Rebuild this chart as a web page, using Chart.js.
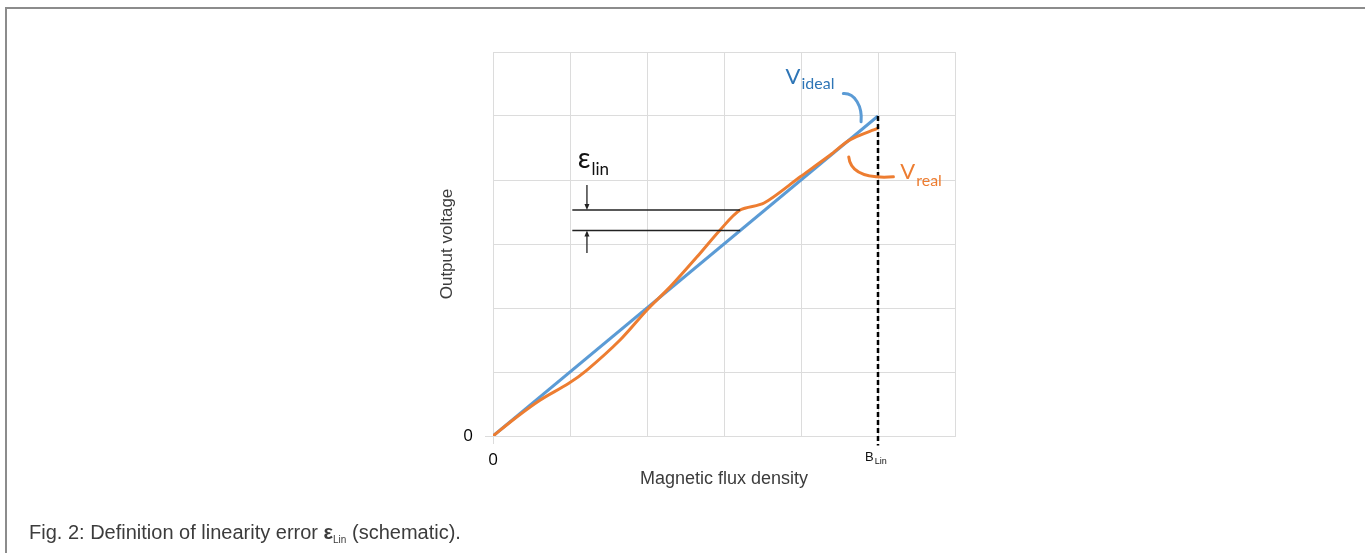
<!DOCTYPE html>
<html>
<head>
<meta charset="utf-8">
<script src="https://cdn.jsdelivr.net/npm/chart.js@4.4.1/dist/chart.umd.min.js"></script>
<style>
  html, body { margin: 0; padding: 0; background: #fff; }
  #wrap { position: relative; width: 1365px; height: 553px; overflow: hidden; }
  #frame { position: absolute; left: 5px; top: 7px; width: 1370px; height: 560px;
           border-top: 2px solid #8c8c8c; border-left: 2px solid #8c8c8c; }
  #chart { position: absolute; left: 0; top: 0; }
  #caption { position: absolute; left: 29px; top: 521px; line-height: 20px;
             font: 20px "Liberation Sans", Arial, sans-serif; color: #3c3c3c; white-space: nowrap; }
  #caption sub { font-size: 10px; vertical-align: -4px; line-height: 0; }
</style>
</head>
<body>
<div id="wrap">
  <div id="frame"></div>
  <canvas id="chart" width="1365" height="553"></canvas>
  <div id="caption">Fig. 2: Definition of linearity error <b>ε</b><sub>Lin</sub> (schematic).</div>
</div>
<script>
// data (schematic units)
const idealX = [0, 5];
const idealY = [0, 5];
const realX = [0, 0.30, 0.61, 0.98, 1.22, 1.65, 2.00, 2.30, 2.65, 2.95, 3.21, 3.52, 3.99, 4.38, 4.64, 5.00];
const realY = [0, 0.29, 0.56, 0.82, 1.03, 1.50, 1.97, 2.33, 2.80, 3.22, 3.53, 3.64, 4.05, 4.39, 4.63, 4.81];
const bLinX = [5, 5];
const bLinY = [5, -0.15];
const epsX = [1.03, 3.21];
const epsUpper = 3.53;
const epsLower = 3.21;
const arrowX = 1.22;
const arrowFrom = [3.92, 2.86];
const xTickLabels = { 0: "0" };
const yTickLabels = { 0: "0" };

const blue = "#5b9bd5";
const orange = "#ed7d31";
const gridColor = "#dcdcdc";

const toPoints = (xs, ys) => xs.map((v, i) => ({ x: v, y: ys[i] }));

// subscripted text helper
function subText(ctx, main, sub, x, y, mainFont, subFont, color, dy) {
    ctx.fillStyle = color;
    ctx.textBaseline = "alphabetic";
    ctx.textAlign = "left";
    ctx.font = mainFont;
    ctx.fillText(main, x, y);
    const w = ctx.measureText(main).width;
    ctx.font = subFont;
    ctx.fillText(sub, x + w + 1, y + dy);
}

const annotate = {
    id: "annotate",
    afterDatasetsDraw(chart) {
        const { ctx, scales: { x, y }, chartArea } = chart;
        const px = v => x.getPixelForValue(v);
        const py = v => y.getPixelForValue(v);
        ctx.save();

        // error arrows
        ctx.strokeStyle = "#222";
        ctx.fillStyle = "#222";
        ctx.lineWidth = 1.3;
        [[arrowFrom[0], epsUpper], [arrowFrom[1], epsLower]].forEach(([a, b]) => {
            const xa = px(arrowX), y0 = py(a), y1 = py(b);
            const dir = y1 > y0 ? 1 : -1;
            ctx.beginPath();
            ctx.moveTo(xa, y0);
            ctx.lineTo(xa, y1 - dir * 4);
            ctx.stroke();
            ctx.beginPath();
            ctx.moveTo(xa, y1);
            ctx.lineTo(xa - 2.5, y1 - dir * 6);
            ctx.lineTo(xa + 2.5, y1 - dir * 6);
            ctx.closePath();
            ctx.fill();
        });

        // callouts
        ctx.lineWidth = 3;
        ctx.lineCap = "round";
        ctx.strokeStyle = blue;
        ctx.beginPath();
        ctx.moveTo(px(4.55), py(5.35));
        ctx.bezierCurveTo(px(4.70), py(5.36), px(4.80), py(5.15), px(4.78), py(4.91));
        ctx.stroke();
        ctx.strokeStyle = orange;
        ctx.beginPath();
        ctx.moveTo(px(4.62), py(4.36));
        ctx.bezierCurveTo(px(4.64), py(4.12), px(4.85), py(4.02), px(5.20), py(4.05));
        ctx.stroke();

        // labels
        subText(ctx, "V", "ideal", px(3.80), py(5.50), "22px Lato", "16px Lato", "#2e75b6", 5);
        subText(ctx, "V", "real", px(5.29), py(4.02), "22px Lato", "16px Lato", orange, 7);
        subText(ctx, "ε", "lin", px(1.10), py(4.19), "28px Lato", "17px Lato", "#111", 7);
        subText(ctx, "B", "Lin", px(5) - 13, chartArea.bottom + 25, "13px 'Liberation Sans'", "9px 'Liberation Sans'", "#111", 3);

        ctx.restore();
    }
};

const ctx = document.getElementById("chart");

const chartData = {
    datasets: [
        {
            data: toPoints(bLinX, bLinY),
            borderColor: "#000",
            borderWidth: 2.5,
            borderDash: [5, 3],
            pointRadius: 0,
            clip: false,
        },
        {
            data: toPoints(epsX, [epsUpper, epsUpper]),
            borderColor: "#222",
            borderWidth: 1.5,
            pointRadius: 0,
        },
        {
            data: toPoints(epsX, [epsLower, epsLower]),
            borderColor: "#222",
            borderWidth: 1.5,
            pointRadius: 0,
        },
        {
            data: toPoints(realX, realY),
            borderColor: orange,
            borderWidth: 3,
            pointRadius: 0,
            tension: 0.3,
        },
        {
            data: toPoints(idealX, idealY),
            borderColor: blue,
            borderWidth: 3,
            pointRadius: 0,
        },
    ],
};

const chart = new Chart(ctx, {
    type: "scatter",
    data: chartData,
    options: {
        responsive: false,
        animation: false,
        showLine: true,
        layout: { padding: { left: 436, top: 52, right: 410, bottom: 63 } },
        plugins: { legend: { display: false }, tooltip: { enabled: false } },
        scales: {
            x: {
                min: 0, max: 6,
                afterFit: s => { s.height = 54; },
                grid: {
                    color: gridColor,
                    tickLength: 8,
                    tickColor: c => (c.tick && c.tick.value === 0 ? gridColor : "rgba(0,0,0,0)"),
                },
                border: { color: gridColor },
                ticks: {
                    stepSize: 1, padding: 6, color: "#000", maxRotation: 0, autoSkip: false,
                    font: { family: "Open Sans", size: 17 },
                    callback: v => xTickLabels[v] || "",
                },
                title: {
                    display: true, text: "Magnetic flux density", color: "#3c3c3c",
                    font: { family: "Liberation Sans", size: 18 }, padding: { top: 0, bottom: 0 },
                },
            },
            y: {
                min: 0, max: 6,
                afterFit: s => { s.width = 57; },
                grid: {
                    color: gridColor,
                    tickLength: 8,
                    tickColor: c => (c.tick && c.tick.value === 0 ? gridColor : "rgba(0,0,0,0)"),
                },
                border: { color: gridColor },
                ticks: {
                    stepSize: 1, padding: 12, color: "#000",
                    font: { family: "Open Sans", size: 17 },
                    callback: v => yTickLabels[v] || "",
                },
                title: {
                    display: true, text: "Output voltage", color: "#3c3c3c",
                    font: { family: "Liberation Sans", size: 17 }, padding: { top: 1, bottom: 0 },
                },
            },
        },
    },
    plugins: [annotate],
});
</script>
</body>
</html>
